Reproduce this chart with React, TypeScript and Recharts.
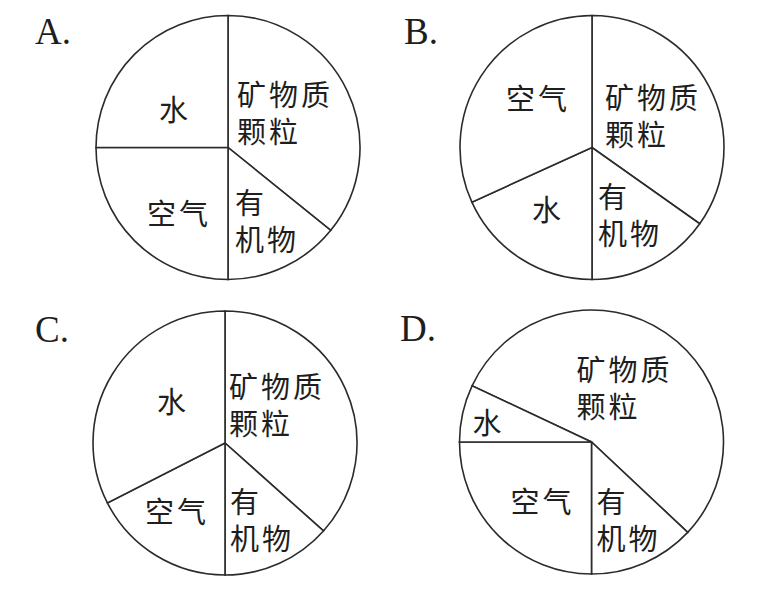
import { PieChart, Pie, Cell } from "recharts"

// shares of each slice, clockwise from the start angle
const namesA = ["矿物质颗粒", "有机物", "空气", "水"]
const valuesA = [35.8, 14.2, 25, 25]

const namesB = ["矿物质颗粒", "有机物", "水", "空气"]
const valuesB = [34.8, 15.2, 18.2, 31.8]

const namesC = ["矿物质颗粒", "有机物", "空气", "水"]
const valuesC = [36.6, 13.4, 17.5, 32.5]

const namesD = ["矿物质颗粒", "有机物", "空气", "水"]
const valuesD = [55, 13, 25, 7]

const panelLetters = ["A.", "B.", "C.", "D."]

const lineBreaks: Record<string, string[]> = {
  矿物质颗粒: ["矿物质", "颗粒"],
  有机物: ["有", "机物"],
  空气: ["空气"],
  水: ["水"],
}

type LabelPos = { dx: number; dy: number; anchor: "start" | "middle" }

// label offsets from each pie's centre
const labelsA: LabelPos[] = [
  { dx: 9, dy: -55, anchor: "start" },
  { dx: 7, dy: 53, anchor: "start" },
  { dx: -49, dy: 64, anchor: "middle" },
  { dx: -53, dy: -40, anchor: "middle" },
]
const labelsB: LabelPos[] = [
  { dx: 13, dy: -52, anchor: "start" },
  { dx: 6, dy: 47, anchor: "start" },
  { dx: -44, dy: 60, anchor: "middle" },
  { dx: -54, dy: -51, anchor: "middle" },
]
const labelsC: LabelPos[] = [
  { dx: 4, dy: -58, anchor: "start" },
  { dx: 5, dy: 57, anchor: "start" },
  { dx: -48, dy: 67, anchor: "middle" },
  { dx: -52, dy: -43, anchor: "middle" },
]
const labelsD: LabelPos[] = [
  { dx: -15, dy: -74, anchor: "start" },
  { dx: 5, dy: 58, anchor: "start" },
  { dx: -49, dy: 58, anchor: "middle" },
  { dx: -103, dy: -21, anchor: "middle" },
]

const toData = (names: string[], values: number[]) =>
  names.map((name, i) => ({ name, value: values[i] }))

const panels = [
  { data: toData(namesA, valuesA), labels: labelsA, cx: 228, cy: 147.5, start: 90 },
  { data: toData(namesB, valuesB), labels: labelsB, cx: 592, cy: 147.5, start: 90 },
  { data: toData(namesC, valuesC), labels: labelsC, cx: 225, cy: 443, start: 90 },
  { data: toData(namesD, valuesD), labels: labelsD, cx: 591.5, cy: 442, start: 154.8 },
]

const letterPos = [
  { left: 35, top: 45 },
  { left: 404, top: 45 },
  { left: 35, top: 343 },
  { left: 400, top: 342 },
]

const cjk = "'Noto Sans CJK SC', 'Noto Sans', sans-serif"

function makeLabel(labels: LabelPos[]) {
  return (props: any) => {
    const { cx, cy, index, name } = props
    const pos = labels[index]
    const lines = lineBreaks[name] ?? [name]
    return (
      <g key={`lbl-${index}`}>
        {lines.map((ln, j) => (
          <text
            key={j}
            x={cx + pos.dx}
            y={cy + pos.dy + j * 37}
            textAnchor={pos.anchor}
            dominantBaseline="central"
            fill="#1e1e1e"
            fontSize={29}
            letterSpacing={3}
            fontFamily={cjk}
          >
            {ln}
          </text>
        ))}
      </g>
    )
  }
}

export default function App() {
  return (
    <div style={{ position: "absolute", left: 0, top: 0, width: 772, height: 590, background: "#fff" }}>
      <PieChart width={772} height={590} margin={{ top: 0, right: 0, bottom: 0, left: 0 }}>
        {panels.map((p, k) => (
          <Pie
            key={k}
            data={p.data}
            dataKey="value"
            nameKey="name"
            cx={p.cx}
            cy={p.cy}
            outerRadius={132}
            startAngle={p.start}
            endAngle={p.start - 360}
            stroke="#2b2b2b"
            strokeWidth={1.6}
            isAnimationActive={false}
            labelLine={false}
            label={makeLabel(p.labels)}
          >
            {p.data.map((d) => (
              <Cell key={d.name} fill="#ffffff" />
            ))}
          </Pie>
        ))}
      </PieChart>
      {panelLetters.map((t, i) => (
        <div
          key={t}
          style={{
            position: "absolute",
            left: letterPos[i].left,
            top: letterPos[i].top - 33,
            fontFamily: "'Liberation Serif', serif",
            fontSize: 37,
            lineHeight: "40px",
            color: "#1e1e1e",
          }}
        >
          {t}
        </div>
      ))}
    </div>
  )
}
